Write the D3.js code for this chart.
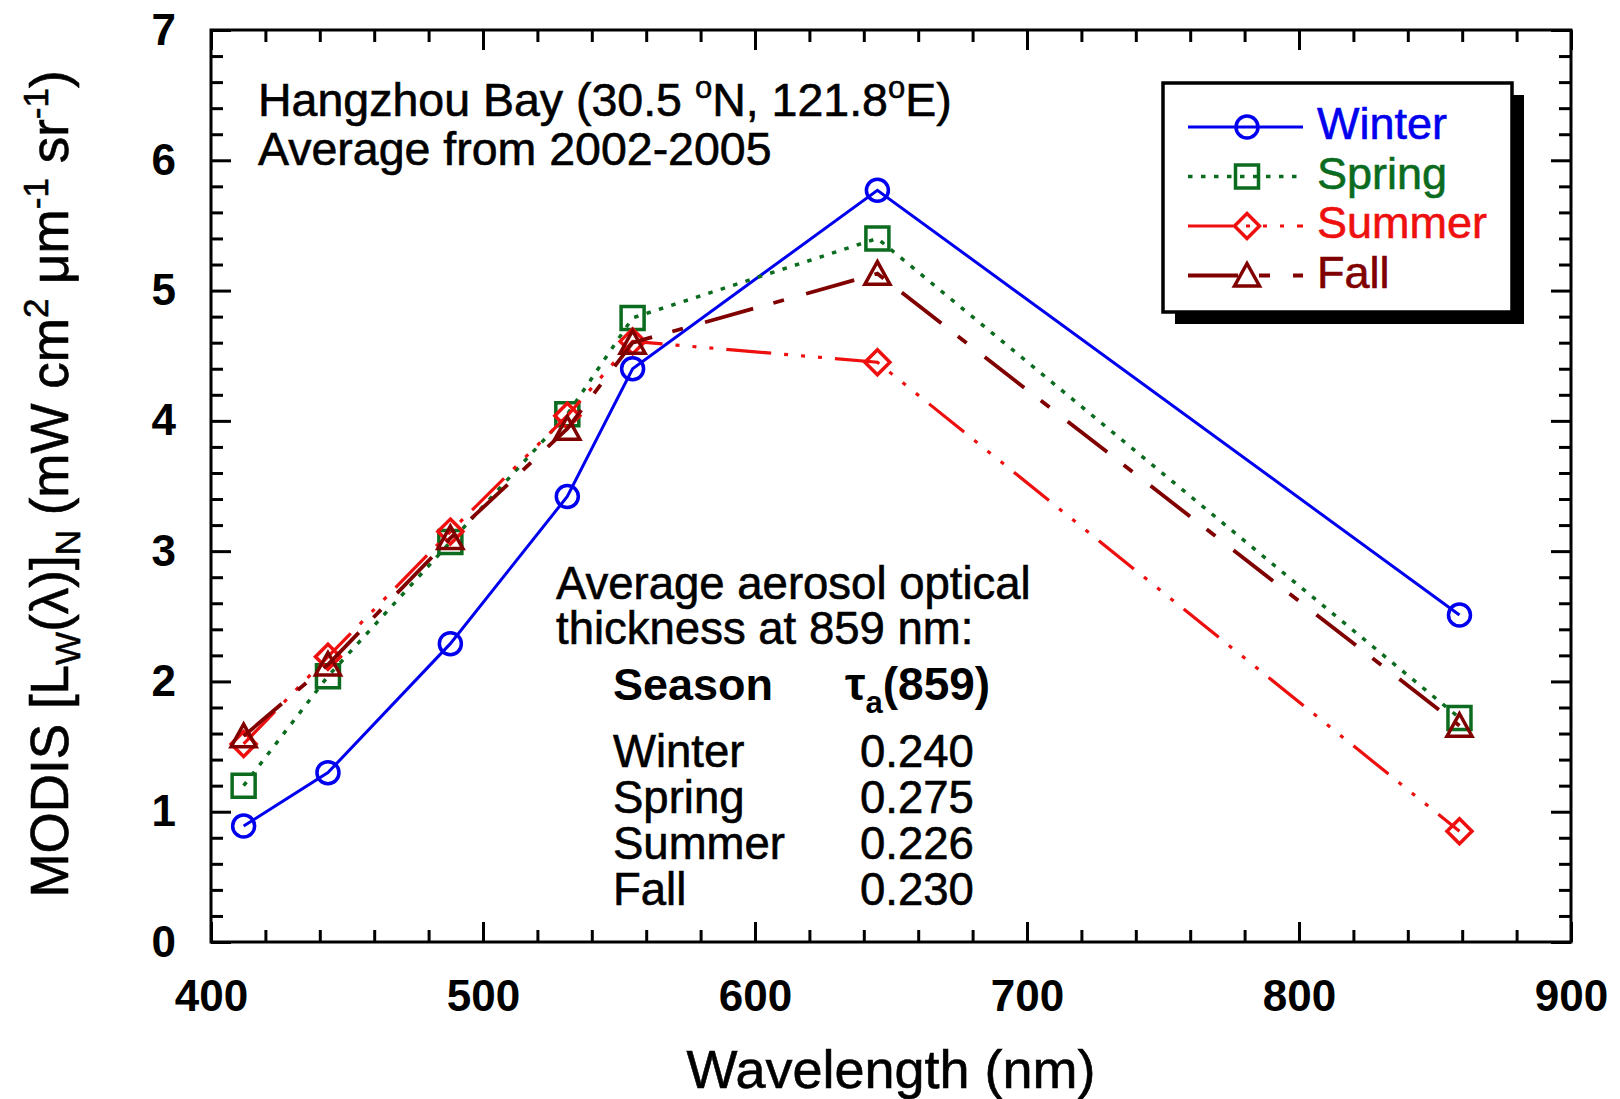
<!DOCTYPE html>
<html>
<head>
<meta charset="utf-8">
<script src="https://cdn.jsdelivr.net/npm/d3@7"></script>
<style>
  html, body { margin: 0; padding: 0; background: #fff; }
  svg { display: block; font-family: "Liberation Sans", Arial, sans-serif; }
</style>
</head>
<body>
<svg id="chart" width="1620" height="1099"></svg>
<script>
// ---------- data ----------
const wavelengths = [412, 443, 488, 531, 555, 645, 859];
const seasons = ["Winter", "Spring", "Summer", "Fall"];
const winterValues = [0.89, 1.30, 2.29, 3.42, 4.40, 5.77, 2.51];
const springValues = [1.20, 2.04, 3.07, 4.05, 4.79, 5.40, 1.72];
const summerValues = [1.52, 2.19, 3.15, 4.04, 4.61, 4.45, 0.85];
const fallValues   = [1.58, 2.13, 3.10, 3.94, 4.60, 5.13, 1.66];
const tauValues = ["0.240", "0.275", "0.226", "0.230"];
const xTicks = [400, 500, 600, 700, 800, 900];
const yTicks = [0, 1, 2, 3, 4, 5, 6, 7];

// ---------- styles ----------
const styles = {
  Winter: { color: "#0000ee", dash: null, width: 3, marker: "circle" },
  Spring: { color: "#0b6b1e", dash: "4.5,8.5", width: 3.5, marker: "square" },
  Summer: { color: "#ee0f0f", dash: "45,13,4,13,4,13,4,13", width: 3.2, marker: "diamond" },
  Fall:   { color: "#800000", dash: "50,21,11,23", width: 3.8, marker: "triangle" }
};
const seriesValues = { Winter: winterValues, Spring: springValues, Summer: summerValues, Fall: fallValues };

const svg = d3.select("#chart");
const M = { left: 211, right: 1571, top: 30, bottom: 942 };
const x = d3.scaleLinear().domain([400, 900]).range([M.left, M.right]);
const y = d3.scaleLinear().domain([0, 7]).range([M.bottom, M.top]);

function markerPath(type) {
  if (type === "circle") return "M11,0A11,11 0 1,1 -11,0A11,11 0 1,1 11,0Z";
  if (type === "square") return "M-11.5,-11.5H11.5V11.5H-11.5Z";
  if (type === "diamond") return "M0,-12.5L12.5,0L0,12.5L-12.5,0Z";
  if (type === "triangle") return "M0,-12L12.5,10.5H-12.5Z";
}

// ---------- axes ----------
const minorX = d3.range(400, 901, 20).filter(v => v % 100 !== 0);
const minorY = d3.range(0, 7.01, 0.2).map(v => +v.toFixed(1)).filter(v => Math.abs(v - Math.round(v)) > 1e-6);

function styleAxis(g) {
  g.select(".domain").remove();
  g.selectAll(".tick line").attr("stroke", "#000").attr("stroke-width", 3);
  g.selectAll(".tick text").attr("fill", "#000").attr("font-size", 44).attr("font-weight", "bold")
    .attr("font-family", "'Liberation Sans', Arial, sans-serif");
}

svg.append("g").attr("transform", `translate(0,${M.bottom})`)
  .call(d3.axisBottom(x).tickValues(xTicks).tickSize(-20).tickPadding(38).tickFormat(d3.format("d")))
  .call(styleAxis);
svg.append("g").attr("transform", `translate(0,${M.bottom})`)
  .call(d3.axisBottom(x).tickValues(minorX).tickSize(-12).tickFormat(""))
  .call(styleAxis);
svg.append("g").attr("transform", `translate(0,${M.top})`)
  .call(d3.axisTop(x).tickValues(xTicks).tickSize(-20).tickFormat(""))
  .call(styleAxis);
svg.append("g").attr("transform", `translate(0,${M.top})`)
  .call(d3.axisTop(x).tickValues(minorX).tickSize(-12).tickFormat(""))
  .call(styleAxis);

svg.append("g").attr("transform", `translate(${M.left},0)`)
  .call(d3.axisLeft(y).tickValues(yTicks).tickSize(-20).tickPadding(35).tickFormat(d3.format("d")))
  .call(styleAxis);
svg.append("g").attr("transform", `translate(${M.left},0)`)
  .call(d3.axisLeft(y).tickValues(minorY).tickSize(-12).tickFormat(""))
  .call(styleAxis);
svg.append("g").attr("transform", `translate(${M.right},0)`)
  .call(d3.axisRight(y).tickValues(yTicks).tickSize(-20).tickFormat(""))
  .call(styleAxis);
svg.append("g").attr("transform", `translate(${M.right},0)`)
  .call(d3.axisRight(y).tickValues(minorY).tickSize(-12).tickFormat(""))
  .call(styleAxis);

// frame
svg.append("rect")
  .attr("x", M.left).attr("y", M.top)
  .attr("width", M.right - M.left).attr("height", M.bottom - M.top)
  .attr("fill", "none").attr("stroke", "#000").attr("stroke-width", 3);

// text helper for slightly heavier regular text
function heavy(sel, color) {
  return sel.attr("fill", color).attr("stroke", color).attr("stroke-width", 0.6);
}

// axis titles
heavy(svg.append("text")
  .attr("x", (M.left + M.right) / 2).attr("y", 1088)
  .attr("text-anchor", "middle").attr("font-size", 54), "#000")
  .text("Wavelength (nm)");

const yl = heavy(svg.append("text")
  .attr("transform", "translate(68,484) rotate(-90)")
  .attr("text-anchor", "middle").attr("font-size", 53), "#000");
yl.append("tspan").text("MODIS [L");
yl.append("tspan").attr("font-size", 35).attr("dy", 12).text("W");
yl.append("tspan").attr("dy", -12).text("(λ)]");
yl.append("tspan").attr("font-size", 35).attr("dy", 12).text("N");
yl.append("tspan").attr("dy", -12).text(" (mW cm");
yl.append("tspan").attr("font-size", 35).attr("dy", -20).text("2");
yl.append("tspan").attr("dy", 20).text(" μm");
yl.append("tspan").attr("font-size", 35).attr("dy", -20).text("-1");
yl.append("tspan").attr("dy", 20).text(" sr");
yl.append("tspan").attr("font-size", 35).attr("dy", -20).text("-1");
yl.append("tspan").attr("dy", 20).text(")");

// ---------- series ----------
const line = d3.line().x(d => x(d[0])).y(d => y(d[1]));
seasons.forEach(s => {
  const st = styles[s];
  const pts = wavelengths.map((w, i) => [w, seriesValues[s][i]]);
  svg.append("path").datum(pts)
    .attr("d", line).attr("fill", "none")
    .attr("stroke", st.color).attr("stroke-width", st.width)
    .attr("stroke-dasharray", st.dash);
  svg.append("g").selectAll("path").data(pts).join("path")
    .attr("transform", d => `translate(${x(d[0])},${y(d[1])})`)
    .attr("d", markerPath(st.marker))
    .attr("fill", "none").attr("stroke", st.color).attr("stroke-width", 3.5);
});

// ---------- annotations ----------
const t1 = heavy(svg.append("text").attr("x", 258).attr("y", 116).attr("font-size", 46.5), "#000");
t1.append("tspan").text("Hangzhou Bay (30.5 ");
t1.append("tspan").attr("font-size", 31).attr("dy", -18).text("o");
t1.append("tspan").attr("dy", 18).text("N, 121.8");
t1.append("tspan").attr("font-size", 31).attr("dy", -18).text("o");
t1.append("tspan").attr("dy", 18).text("E)");
heavy(svg.append("text").attr("x", 258).attr("y", 165).attr("font-size", 46.5), "#000")
  .text("Average from 2002-2005");

heavy(svg.append("text").attr("x", 556).attr("y", 599).attr("font-size", 45.5), "#000")
  .text("Average aerosol optical");
heavy(svg.append("text").attr("x", 556).attr("y", 644).attr("font-size", 45.5), "#000")
  .text("thickness at 859 nm:");
svg.append("text").attr("x", 613).attr("y", 700).attr("font-size", 45).attr("font-weight", "bold").attr("fill", "#000")
  .text("Season");
const tau = svg.append("text").attr("x", 845).attr("y", 700).attr("font-size", 46).attr("font-weight", "bold").attr("fill", "#000");
tau.append("tspan").text("τ");
tau.append("tspan").attr("font-size", 31).attr("dy", 13).text("a");
tau.append("tspan").attr("dy", -13).text("(859)");

seasons.forEach((s, i) => {
  const yy = 767 + i * 46;
  heavy(svg.append("text").attr("x", 613).attr("y", yy).attr("font-size", 45.5), "#000").text(s);
  heavy(svg.append("text").attr("x", 860).attr("y", yy).attr("font-size", 45.5), "#000").text(tauValues[i]);
});

// ---------- legend ----------
const L = { x: 1163, y: 83, w: 349, h: 229 };
svg.append("rect").attr("x", L.x + 12).attr("y", L.y + 12).attr("width", L.w).attr("height", L.h).attr("fill", "#000");
svg.append("rect").attr("x", L.x).attr("y", L.y).attr("width", L.w).attr("height", L.h)
  .attr("fill", "#fff").attr("stroke", "#000").attr("stroke-width", 3.5);
seasons.forEach((s, i) => {
  const st = styles[s];
  const ry = 127 + i * 49.5;
  svg.append("line").attr("x1", 1188).attr("x2", 1303).attr("y1", ry).attr("y2", ry)
    .attr("stroke", st.color).attr("stroke-width", st.width).attr("stroke-dasharray", st.dash);
  svg.append("path").attr("transform", `translate(1247,${ry})`).attr("d", markerPath(st.marker))
    .attr("fill", "none").attr("stroke", st.color).attr("stroke-width", 3.5);
  heavy(svg.append("text").attr("x", 1317).attr("y", ry + 12).attr("font-size", 45), st.color).text(s);
});
</script>
</body>
</html>
